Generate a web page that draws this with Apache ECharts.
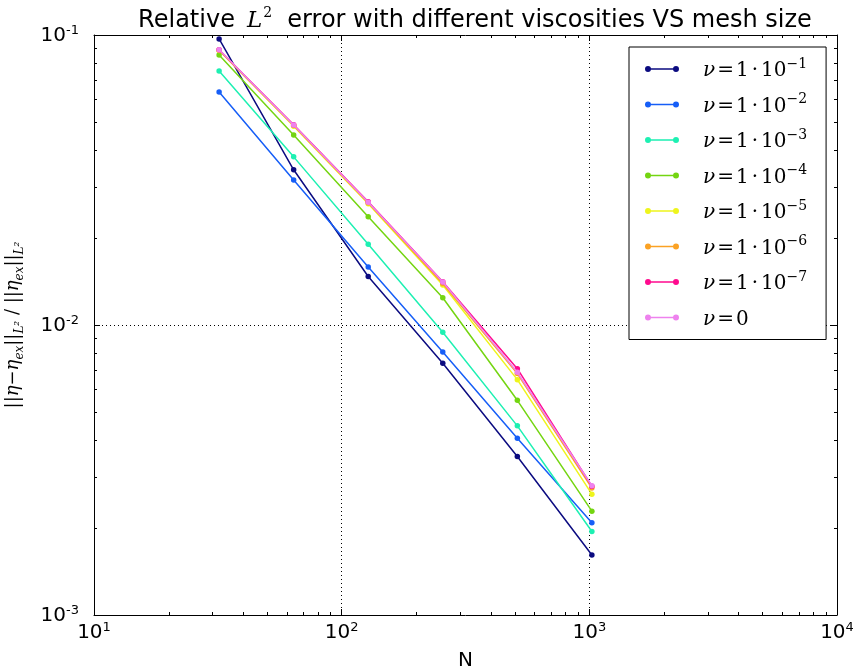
<!DOCTYPE html>
<html>
<head>
<meta charset="utf-8">
<script src="https://cdn.jsdelivr.net/npm/echarts@6/dist/echarts.min.js"></script>
<style>
html,body{margin:0;padding:0;background:#fff;}
#chart{width:853px;height:671px;}
</style>
</head>
<body>
<div id="chart"></div>
<script>
// ---- data ----
const N = [32, 64, 128, 256, 512, 1024];
const nu1 = [0.0969, 0.0343, 0.0147, 0.00738, 0.00352, 0.00161];
const nu2 = [0.0636, 0.0316, 0.01585, 0.00807, 0.00407, 0.00208];
const nu3 = [0.0752, 0.0380, 0.0190, 0.00944, 0.00449, 0.00194];
const nu4 = [0.0853, 0.0452, 0.0236, 0.01242, 0.0055, 0.00228];
const nu5 = [0.0885, 0.0485, 0.0262, 0.01374, 0.00648, 0.00261];
const nu6 = [0.0887, 0.0488, 0.0264, 0.0139, 0.0068, 0.00274];
const nu7 = [0.0889, 0.0490, 0.0266, 0.01410, 0.00707, 0.00278];
const nu0 = [0.0890, 0.0489, 0.0265, 0.01407, 0.00687, 0.00279];
const seriesNames = ['nu1', 'nu2', 'nu3', 'nu4', 'nu5', 'nu6', 'nu7', 'nu0'];
const seriesExp = ['−1', '−2', '−3', '−4', '−5', '−6', '−7', null];
const seriesValues = [nu1, nu2, nu3, nu4, nu5, nu6, nu7, nu0];
const seriesColors = ['#0b0b80', '#165ef7', '#1df0b2', '#74d511', '#eef51c', '#fba224', '#ff0a8e', '#ee82ee'];
const xMin = 10, xMax = 10000, yMin = 0.001, yMax = 0.1;
const xMinorTicks = [];
for (let d = 10; d < xMax; d *= 10) for (let k = 2; k <= 9; k++) xMinorTicks.push(d * k);
const yMinorTicks = [];
for (let d = 0.001; d < yMax * 0.99; d *= 10) for (let k = 2; k <= 9; k++) yMinorTicks.push(+(d * k).toPrecision(3));

const chart = echarts.init(document.getElementById('chart'));

const supLabel = {
  b: {fontFamily: 'DejaVu Sans', fontSize: 20, color: '#000', lineHeight: 22, padding: [4, 0, 0, 0], verticalAlign: 'bottom'},
  s: {fontFamily: 'DejaVu Sans', fontSize: 13, color: '#000', lineHeight: 13, verticalAlign: 'top'}
};
function expLabel(v) {
  const e = Math.round(Math.log10(v));
  return '{b|10}{s|' + (e < 0 ? '-' : '') + Math.abs(e) + '}';
}

const mathFont = 'DejaVu Serif';
const legendRich = {
  it: {fontFamily: mathFont, fontStyle: 'italic', fontSize: 20, color: '#000', lineHeight: 24, verticalAlign: 'bottom', padding: [4, 0, 0, 0]},
  op: {fontFamily: mathFont, fontSize: 20, color: '#000', lineHeight: 24, verticalAlign: 'bottom', padding: [4, 2, 0, 2]},
  n: {fontFamily: mathFont, fontSize: 20, color: '#000', lineHeight: 24, verticalAlign: 'bottom', padding: [4, 0, 0, 0]},
  dot: {fontFamily: mathFont, fontSize: 20, color: '#000', lineHeight: 24, verticalAlign: 'bottom', padding: [4, 3, 0, 3]},
  sup: {fontFamily: mathFont, fontSize: 14, color: '#000', lineHeight: 14, verticalAlign: 'top'}
};

const series = seriesNames.map((name, i) => ({
  name: name,
  type: 'line',
  data: N.map((n, j) => [n, seriesValues[i][j]]),
  symbol: 'circle',
  symbolSize: 5.5,
  lineStyle: {width: 1.5, color: seriesColors[i]},
  itemStyle: {color: seriesColors[i]},
  emphasis: {disabled: true},
  z: 3 + i
}));

function tickLine(x1, y1, x2, y2) {
  return {type: 'line', shape: {x1: x1, y1: y1, x2: x2, y2: y2}, style: {stroke: '#000', lineWidth: 1}};
}
series.push({
  type: 'custom',
  name: 'xminor',
  silent: true,
  z: 20,
  data: xMinorTicks.map(v => [v, 0.01]),
  renderItem: function (params, api) {
    const v = api.value(0);
    const b = api.coord([v, yMin]);
    const t = api.coord([v, yMax]);
    const x = Math.round(b[0]) + 0.5;
    return {type: 'group', children: [tickLine(x, b[1], x, b[1] - 3), tickLine(x, t[1], x, t[1] + 3)]};
  }
});
series.push({
  type: 'custom',
  name: 'yminor',
  silent: true,
  z: 20,
  data: yMinorTicks.map(v => [100, v]),
  renderItem: function (params, api) {
    const v = api.value(1);
    const l = api.coord([xMin, v]);
    const r = api.coord([xMax, v]);
    const y = Math.round(l[1]) + 0.5;
    return {type: 'group', children: [tickLine(l[0], y, l[0] + 3, y), tickLine(r[0], y, r[0] - 3, y)]};
  }
});

const axisCommon = {
  type: 'log',
  logBase: 10,
  axisLine: {show: true, lineStyle: {color: '#000', width: 1}},
  axisTick: {show: true, inside: true, length: 6, lineStyle: {color: '#000', width: 1}},
  minorTick: {show: false}
};

const legendIcon = 'path://M0,3A3,3,0,1,1,6,3A3,3,0,1,1,0,3ZM28,3A3,3,0,1,1,34,3A3,3,0,1,1,28,3ZM3,2.3L31,2.3L31,3.7L3,3.7Z';

chart.setOption({
  animation: false,
  backgroundColor: '#fff',
  title: {
    text: '{n|Relative}{it|L}{sup|2}{n|  error with different viscosities VS mesh size}',
    left: 470,
    top: 1,
    textAlign: 'center',
    textStyle: {
      fontWeight: 'normal',
      rich: {
        n: {fontFamily: 'DejaVu Sans', fontWeight: 'normal', fontSize: 24, color: '#000', lineHeight: 27, verticalAlign: 'bottom', padding: [4, 0, 0, 0]},
        it: {fontFamily: mathFont, fontStyle: 'italic', fontWeight: 'normal', fontSize: 23, color: '#000', lineHeight: 27, verticalAlign: 'bottom', padding: [4, 1, 0, 12]},
        sup: {fontFamily: mathFont, fontWeight: 'normal', fontSize: 14, color: '#000', lineHeight: 14, verticalAlign: 'top'}
      }
    }
  },
  grid: {left: 94, right: 16, top: 35, bottom: 56, containLabel: false, outerBoundsMode: 'none'},
  legend: {
    orient: 'vertical',
    left: 629,
    top: 47,
    data: seriesNames.map((n, i) => ({
      name: n,
      icon: legendIcon,
      itemStyle: {color: seriesColors[i], borderWidth: 0, opacity: 1}
    })),
    itemWidth: 34,
    itemHeight: 6,
    itemGap: 11.5,
    padding: [10, 19, 10, 16],
    borderColor: '#000',
    borderWidth: 1,
    backgroundColor: '#fff',
    selectedMode: false,
    textStyle: {padding: [0, 0, 0, 19], rich: legendRich},
    formatter: function (name) {
      const i = seriesNames.indexOf(name);
      if (seriesExp[i] === null) return '{it|ν}{op|=}{n|0}';
      return '{it|ν}{op|=}{n|1}{dot|·}{n|10}{sup|' + seriesExp[i] + '}';
    }
  },
  xAxis: [
    Object.assign({}, axisCommon, {
      position: 'bottom',
      min: xMin, max: xMax,
      axisLabel: {margin: 6, formatter: expLabel, rich: supLabel},
      splitLine: {show: true, lineStyle: {color: '#000', width: 1, type: [1, 3]}},
      name: 'N',
      nameLocation: 'middle',
      nameGap: 36,
      nameTextStyle: {fontFamily: 'DejaVu Sans', fontSize: 20, color: '#000'}
    }),
    Object.assign({}, axisCommon, {
      position: 'top',
      min: xMin, max: xMax,
      axisLabel: {show: false},
      splitLine: {show: false}
    })
  ],
  yAxis: [
    Object.assign({}, axisCommon, {
      position: 'left',
      min: yMin, max: yMax,
      axisLabel: {margin: 15, formatter: expLabel, rich: supLabel},
      splitLine: {show: true, lineStyle: {color: '#000', width: 1, type: [1, 3]}},
      name: '{d|||}{it|η}{d|−}{it|η}{sub|ex}{d|||}{sub|L²}{d| / ||}{it|η}{sub|ex}{d|||}{sub|L²}',
      nameLocation: 'middle',
      nameRotate: 90,
      nameGap: 68,
      nameTextStyle: {
        rich: {
          d: {fontFamily: mathFont, fontSize: 18, color: '#000', lineHeight: 22, verticalAlign: 'top'},
          it: {fontFamily: mathFont, fontStyle: 'italic', fontSize: 18, color: '#000', lineHeight: 22, verticalAlign: 'top'},
          sub: {fontFamily: mathFont, fontStyle: 'italic', fontSize: 12, color: '#000', lineHeight: 14, verticalAlign: 'bottom', padding: [8, 0, 0, 0]}
        }
      }
    }),
    Object.assign({}, axisCommon, {
      position: 'right',
      min: yMin, max: yMax,
      axisLabel: {show: false},
      splitLine: {show: false}
    })
  ],
  series: series
});
</script>
</body>
</html>
